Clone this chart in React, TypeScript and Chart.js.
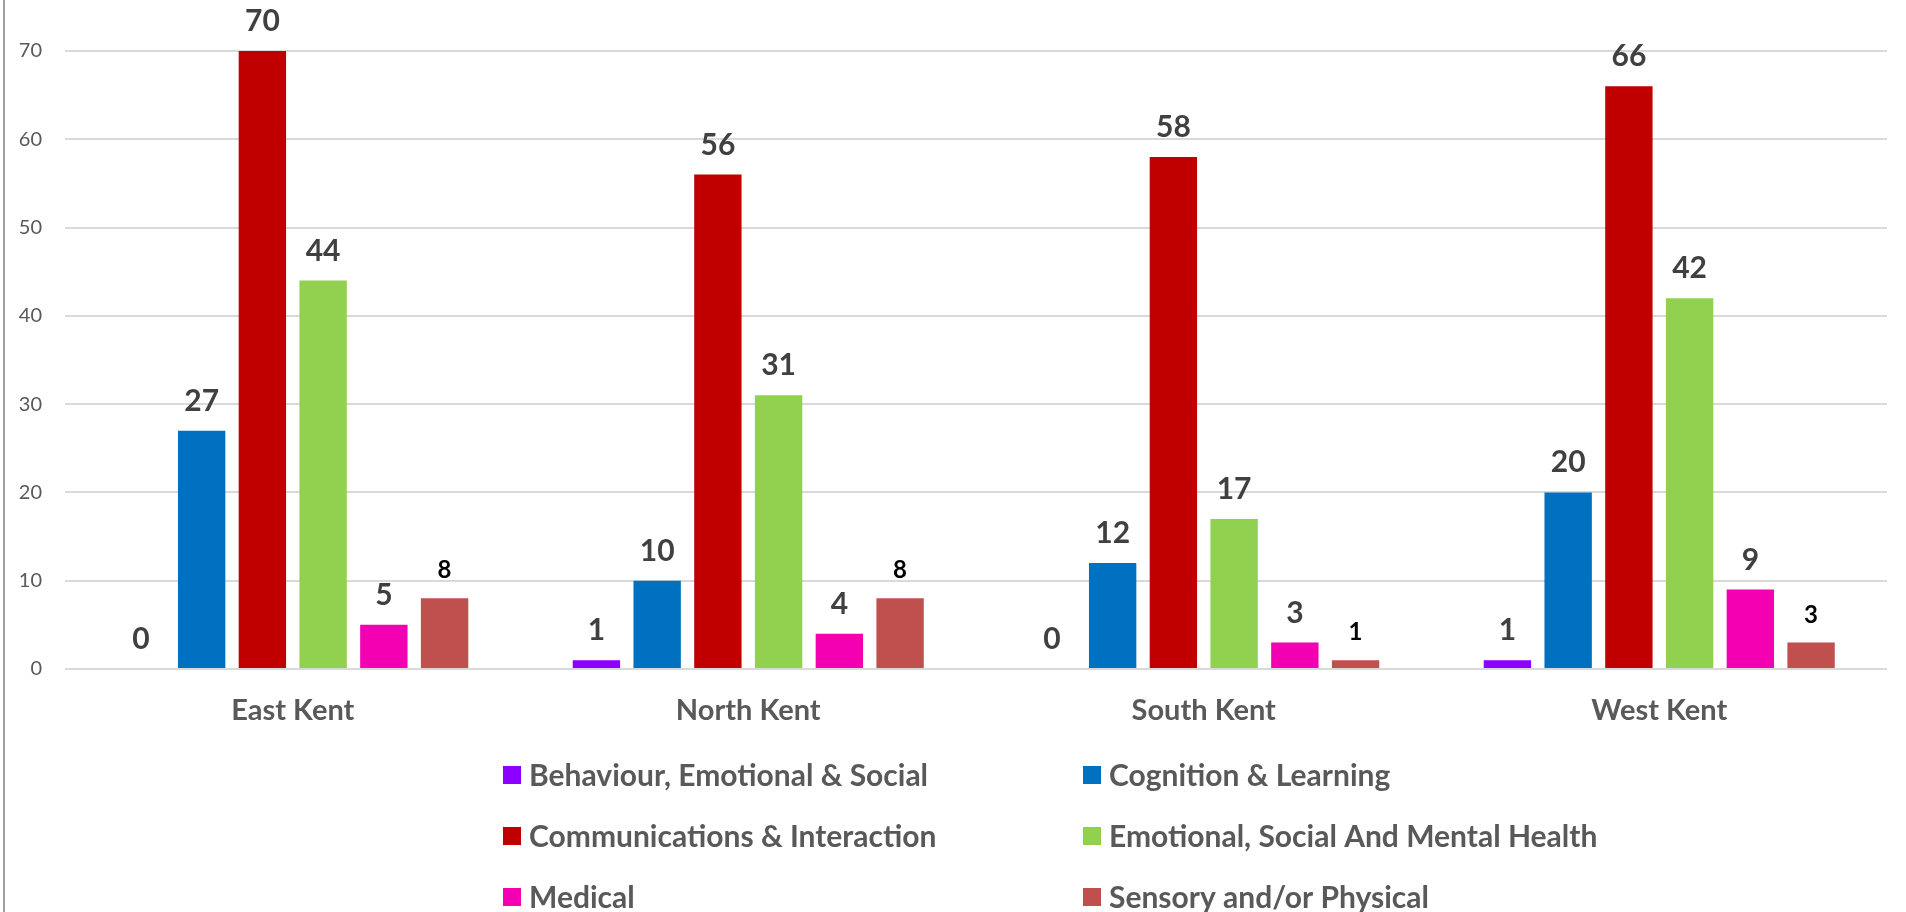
import React, { useEffect, useRef } from "react";
import { Chart, registerables } from "chart.js";

Chart.register(...registerables);

const categories = ["East Kent", "North Kent", "South Kent", "West Kent"];
const seriesNames = [
  "Behaviour, Emotional & Social",
  "Cognition & Learning",
  "Communications & Interaction",
  "Emotional, Social And Mental Health",
  "Medical",
  "Sensory and/or Physical",
];
const behaviourValues = [0, 1, 0, 1];
const cognitionValues = [27, 10, 12, 20];
const communicationsValues = [70, 56, 58, 66];
const emotionalValues = [44, 31, 17, 42];
const medicalValues = [5, 4, 3, 9];
const sensoryValues = [8, 8, 1, 3];
const seriesColors = ["#8B00FF", "#0070C0", "#C00000", "#92D050", "#F200B2", "#C0504D"];
const yTicks = [0, 10, 20, 30, 40, 50, 60, 70];

const FONT = "Lato, 'Open Sans', sans-serif";

const labelsPlugin = {
  id: "valueLabels",
  afterDatasetsDraw(chart: any) {
    const ctx = chart.ctx;
    ctx.save();
    chart.data.datasets.forEach((ds: any, i: number) => {
      const meta = chart.getDatasetMeta(i);
      const small = i === 5;
      ctx.font = `bold ${small ? 24 : 30}px ${FONT}`;
      ctx.fillStyle = small ? "#000000" : "#404040";
      ctx.textAlign = "center";
      ctx.textBaseline = "alphabetic";
      meta.data.forEach((bar: any, j: number) => {
        ctx.fillText(String(ds.data[j]), bar.x, bar.y - 20);
      });
    });
    ctx.restore();
  },
};

const legendPlugin = {
  id: "gridLegend",
  afterDraw(chart: any) {
    const ctx = chart.ctx;
    ctx.save();
    // left chart border
    ctx.strokeStyle = "#A0A0A0";
    ctx.lineWidth = 2;
    ctx.beginPath();
    ctx.moveTo(4, 0);
    ctx.lineTo(4, chart.height);
    ctx.stroke();

    const colX = [503, 1083];
    const rowY = [775, 836, 897];
    ctx.font = `bold 30px ${FONT}`;
    ctx.textAlign = "left";
    ctx.textBaseline = "middle";
    chart.data.datasets.forEach((ds: any, i: number) => {
      const x = colX[i % 2];
      const y = rowY[Math.floor(i / 2)];
      ctx.fillStyle = ds.backgroundColor;
      ctx.fillRect(x, y - 9, 18, 18);
      ctx.fillStyle = "#595959";
      ctx.fillText(ds.label, x + 26, y + 1);
    });
    ctx.restore();
  },
};

export default function App() {
  const ref = useRef<HTMLCanvasElement | null>(null);
  useEffect(() => {
    if (!ref.current) return;
    const valueSets = [
      behaviourValues,
      cognitionValues,
      communicationsValues,
      emotionalValues,
      medicalValues,
      sensoryValues,
    ];
    const chart = new Chart(ref.current, {
      type: "bar",
      data: {
        labels: categories,
        datasets: valueSets.map((vals, i) => ({
          label: seriesNames[i],
          data: vals,
          backgroundColor: seriesColors[i],
          borderWidth: 0,
          categoryPercentage: 0.8,
          barPercentage: 0.78,
        })),
      },
      options: {
        responsive: false,
        animation: false,
        layout: { padding: { top: 51, right: 19, left: 0, bottom: 0 } },
        plugins: { legend: { display: false }, tooltip: { enabled: false } },
        scales: {
          x: {
            grid: { display: false },
            border: { display: false },
            ticks: {
              padding: 16,
              color: "#595959",
              font: { family: FONT, size: 29, weight: "bold" },
            },
            afterFit: (scale: any) => {
              scale.height = 243;
            },
          },
          y: {
            min: 0,
            max: 70,
            afterBuildTicks: (scale: any) => {
              scale.ticks = yTicks.map((v) => ({ value: v }));
            },
            grid: { color: "#D9D9D9", lineWidth: 2, drawTicks: false },
            border: { display: false },
            ticks: {
              padding: 23,
              color: "#595959",
              font: { family: FONT, size: 20 },
            },
            afterFit: (scale: any) => {
              scale.width = 65;
            },
          },
        },
      },
      plugins: [labelsPlugin, legendPlugin],
    } as any);
    return () => chart.destroy();
  }, []);
  return (
    <div style={{ position: "fixed", left: 0, top: 0, width: 1906, height: 912, background: "#fff" }}>
      <canvas ref={ref} width={1906} height={912} style={{ display: "block" }} />
    </div>
  );
}
